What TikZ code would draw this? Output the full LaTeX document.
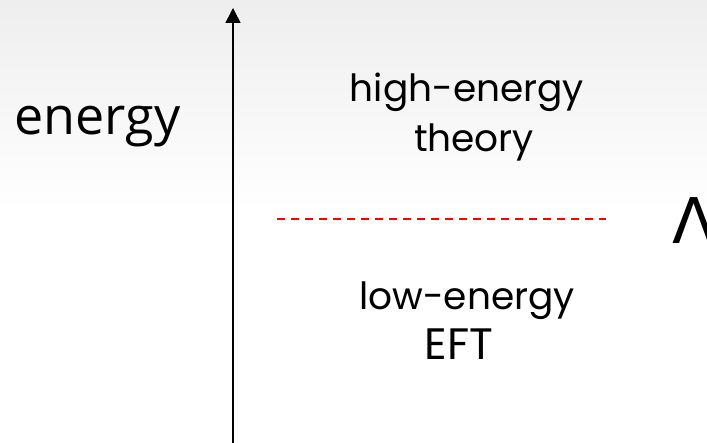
\documentclass[tikz,border=0pt]{standalone}
\usepackage{fontspec}
\setmainfont{Open Sans}
\newfontfamily\comicfont{Poppins}
\newfontfamily\greekfont{DejaVu Sans}
\usetikzlibrary{arrows.meta}
\definecolor{bgtop}{RGB}{238,238,238}
\definecolor{dashred}{RGB}{255,0,0}
\tikzset{
  axislabel/.style={inner sep=0pt, anchor=base, font=\fontsize{52}{60}\selectfont},
  regionlabel/.style={inner sep=0pt, anchor=base, font=\comicfont\fontsize{37.5}{50}\selectfont},
  axisline/.style={line width=1.5pt, -{Triangle[length=15pt,width=15pt]}},
  cutline/.style={dashed, dash pattern=on 8pt off 6pt, line width=1.5pt, draw=dashred}
}
\begin{document}
\begin{tikzpicture}[x=1pt,y=-1pt]
\useasboundingbox (0,0) rectangle (707,443);
\clip (0,0) rectangle (707,443);
\fill[white] (0,0) rectangle (707,443);
\shade[top color=bgtop, bottom color=white] (0,0) rectangle (707,211);
\coordinate (axbot) at (233,445);
\coordinate (axtop) at (233,8);
\draw[axisline] (axbot) -- (axtop);
\coordinate (cutL) at (277,219);
\coordinate (cutR) at (606,219);
\draw[cutline] (cutL) -- (cutR);
\node[axislabel] (energy) at (97.5,135) {energy};
\node[regionlabel] (high) at (467,102) {high-energy};
\node[regionlabel] (theory) at (474,152) {theory};
\node[regionlabel] (low) at (467,310) {low-energy};
\node[regionlabel, font=\comicfont\fontsize{44}{50}\selectfont] (eft) at (459,360) {EFT};
\node[inner sep=0pt, anchor=base, font=\greekfont\fontsize{63}{70}\selectfont] (lambda) at (694,244) {Λ};
\end{tikzpicture}
\end{document}
